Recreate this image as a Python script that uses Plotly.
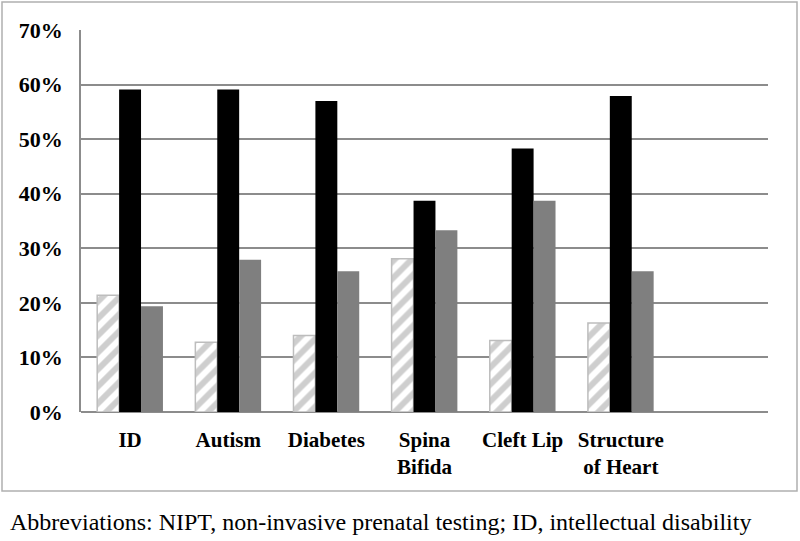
import plotly.graph_objects as go

categories = ["ID", "Autism", "Diabetes", "Spina<br>Bifida", "Cleft Lip", "Structure<br>of Heart"]
hatched_vals = [21.4, 12.8, 14.0, 28.1, 13.1, 16.3]
black_vals = [59.1, 59.1, 57.0, 38.7, 48.3, 57.9]
gray_vals = [19.4, 27.9, 25.8, 33.3, 38.7, 25.8]
y_ticks = [0, 10, 20, 30, 40, 50, 60, 70]
y_tick_text = ["0%", "10%", "20%", "30%", "40%", "50%", "60%", "70%"]
note = "Abbreviations: NIPT, non-invasive prenatal testing; ID, intellectual disability"

serif = "Liberation Serif, Times New Roman, serif"

fig = go.Figure()
fig.add_trace(go.Bar(
    x=categories, y=hatched_vals, name="A",
    marker=dict(color="white",
                pattern=dict(shape="/", fgcolor="#9e9e9e", bgcolor="white", size=12, solidity=0.5),
                line=dict(color="#bdbdbd", width=1.5)),
))
fig.add_trace(go.Bar(
    x=categories, y=black_vals, name="B",
    marker=dict(color="#000000", line=dict(width=0)),
))
fig.add_trace(go.Bar(
    x=categories, y=gray_vals, name="C",
    marker=dict(color="#7f7f7f", line=dict(width=0)),
))

L, R, T, B = 81, 32, 30, 129
W, H = 800, 541
pw, ph = W - L - R, H - T - B

def px(xp):
    return (xp - L) / pw

def py(yp):
    return (H - B - yp) / ph

fig.update_layout(
    width=W, height=H,
    margin=dict(l=L, r=R, t=T, b=B, autoexpand=False),
    paper_bgcolor="white", plot_bgcolor="white",
    barmode="group", bargap=0.33, bargroupgap=0,
    showlegend=False,
    font=dict(family=serif, color="black"),
    xaxis=dict(
        type="category", range=[-0.5, 6.5], automargin=False,
        showgrid=False, showline=False, zeroline=False,
        tickfont=dict(family=serif, size=21, color="black", weight="bold"),
        ticklabelstandoff=13,
    ),
    yaxis=dict(
        range=[0, 70], tickvals=y_ticks, ticktext=y_tick_text, automargin=False,
        showgrid=True, gridcolor="#8c8c8c", gridwidth=1.5,
        showline=True, linecolor="#8c8c8c", linewidth=1.5,
        zeroline=True, zerolinecolor="#8c8c8c", zerolinewidth=1.5,
        tickfont=dict(family=serif, size=22, color="black", weight="bold"),
        ticklabelstandoff=12,
    ),
    shapes=[dict(
        type="rect", xref="paper", yref="paper",
        x0=px(2), x1=px(797), y0=py(491), y1=py(2),
        line=dict(color="#b0b0b0", width=1.5), fillcolor="rgba(0,0,0,0)", layer="below",
    )],
    annotations=[dict(
        text=note, xref="paper", yref="paper",
        x=px(8), y=py(522), xanchor="left", yanchor="middle",
        showarrow=False, font=dict(family=serif, size=24, color="black"),
    )],
)

fig.write_html(
    "out.html",
    config={"displayModeBar": False},
    post_script="document.body.style.margin='0';document.body.style.overflow='hidden';",
)
